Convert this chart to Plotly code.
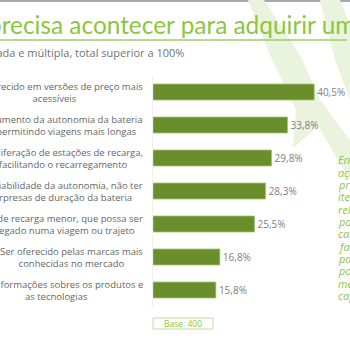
import plotly.graph_objects as go

# ---- data ----
categories = [
    "Ser oferecido em versões de preço mais<br>acessíveis",
    "Aumento da autonomia da bateria<br>permitindo viagens mais longas",
    "Proliferação de estações de recarga,<br>facilitando o recarregamento",
    "Confiabilidade da autonomia, não ter<br>surpresas de duração da bateria",
    "Tempo de recarga menor, que possa ser<br>recarregado numa viagem ou trajeto",
    "Ser oferecido pelas marcas mais<br>conhecidas no mercado",
    "Mais informações sobres os produtos e<br>as tecnologias",
]
values = [40.5, 33.8, 29.8, 28.3, 25.5, 16.8, 15.8]
value_labels = [f"{v:.1f}%".replace(".", ",") for v in values]

title_text = "precisa acontecer para adquirir um carro elétrico?"
subtitle_text = "Resposta estimulada e múltipla, total superior a 100%"
base_text = "Base: 400"
side_lines = ["Entre as", "ações", "prioritárias,", "itens", "relacionados",
              "potência e", "carga", "fazem", "parte das", "possíveis",
              "melhorias", "capazes"]

W = H = 350
def px(x):
    return x / W
def py(y):
    return 1 - y / H

GREEN = "#8cc63f"
BAR = "#6a8e2c"
BOLT = "#eaf3dd"

fig = go.Figure()
fig.add_trace(go.Bar(
    x=values, y=categories, orientation="h",
    marker=dict(color=BAR, line=dict(color="#a2c56f", width=0.8)),
    text=value_labels, textposition="outside", cliponaxis=False,
    textfont=dict(family="Open Sans", size=10, color="#808080"),
    hoverinfo="skip",
))

shapes = []
# top gray line
shapes.append(dict(type="line", xref="paper", yref="paper", x0=0, x1=1,
                   y0=py(1), y1=py(1), line=dict(color="#a8a8a8", width=2), layer="below"))
# decorative lightning bolt
bolt = [(248, 0), (264, 0), (300, 55), (320, 100), (350, 140), (350, 180),
        (318, 126), (293, 148), (296, 110), (270, 55)]
path = "M " + " L ".join(f"{px(x)},{py(y)}" for x, y in bolt) + " Z"
shapes.append(dict(type="path", xref="paper", yref="paper", path=path,
                   fillcolor=BOLT, line=dict(width=0), layer="below"))
stripe = [(320, 0), (340, 0), (350, 25), (350, 100), (335, 60)]
path2 = "M " + " L ".join(f"{px(x)},{py(y)}" for x, y in stripe) + " Z"
shapes.append(dict(type="path", xref="paper", yref="paper", path=path2,
                   fillcolor=BOLT, line=dict(width=0), layer="below"))
# title underline
shapes.append(dict(type="line", xref="paper", yref="paper", x0=0, x1=px(347),
                   y0=py(40), y1=py(40), line=dict(color="#9fce66", width=1.5)))
# base box
shapes.append(dict(type="rect", xref="paper", yref="paper", x0=px(153), x1=px(213),
                   y0=py(318), y1=py(329), line=dict(color="#bfe09a", width=1),
                   fillcolor="white"))

ann = []
ann.append(dict(text=title_text, xref="paper", yref="paper", x=px(-14.5), y=py(25),
                xanchor="left", yanchor="middle", showarrow=False,
                font=dict(family="Lato", size=24.4, color=GREEN)))
ann.append(dict(text=subtitle_text, xref="paper", yref="paper", x=px(186), y=py(52),
                xanchor="right", yanchor="middle", showarrow=False,
                font=dict(family="Open Sans", size=11, color="#737373")))
for c in categories:
    ann.append(dict(text=c, xref="paper", yref="y", x=px(145), y=c,
                    xanchor="right", yanchor="middle", align="center", showarrow=False,
                    font=dict(family="Open Sans", size=9.5, color="#666666")))
for i, t in enumerate(side_lines):
    ann.append(dict(text=t, xref="paper", yref="paper", x=px(336), y=py(160 + 12.3 * i),
                    xanchor="left", yanchor="middle", showarrow=False,
                    font=dict(family="Open Sans", size=11, color=GREEN, style="italic")))
ann.append(dict(text=base_text, xref="paper", yref="paper", x=px(183), y=py(323.5),
                xanchor="center", yanchor="middle", showarrow=False,
                font=dict(family="Open Sans", size=8.5, color=GREEN)))

fig.update_layout(
    width=W, height=H, margin=dict(l=0, r=0, t=0, b=0),
    paper_bgcolor="white", plot_bgcolor="rgba(0,0,0,0)",
    showlegend=False, bargap=0.515,
    shapes=shapes, annotations=ann,
    xaxis=dict(domain=[px(153), 1], range=[0, 49.5], visible=False, fixedrange=True),
    yaxis=dict(domain=[py(306.5), py(75.5)], autorange="reversed", showticklabels=False,
               showgrid=False, zeroline=False, showline=True, linecolor="#efefef",
               linewidth=1, ticks="", fixedrange=True),
)
fig.write_html("out.html", config={"displayModeBar": False})
